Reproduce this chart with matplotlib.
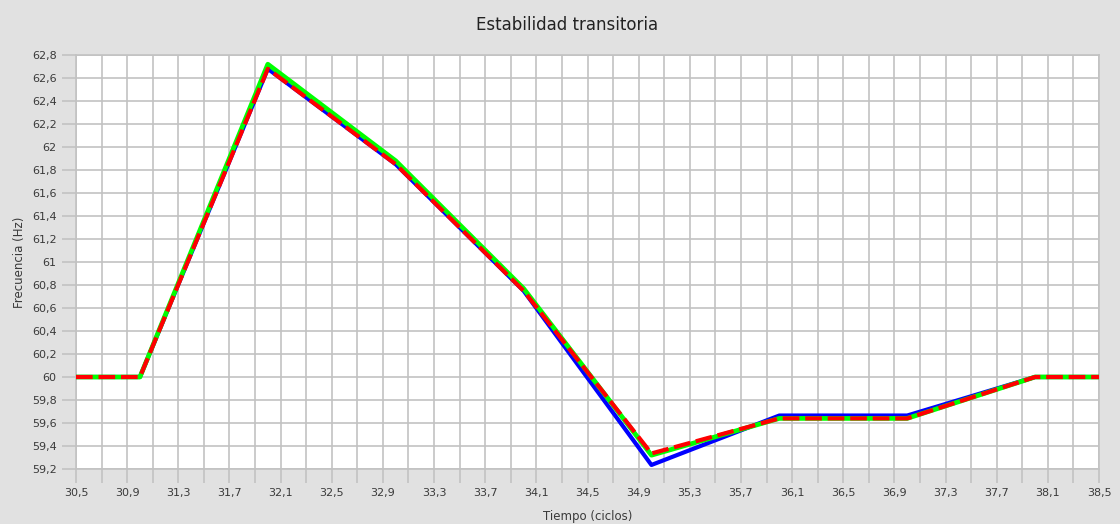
import matplotlib
matplotlib.use("Agg")
import matplotlib.pyplot as plt
import numpy as np

tiempo = [30.5, 31.0, 32.0, 33.0, 34.0, 35.0, 36.0, 37.0, 38.0, 38.5]
serie_azul = [60.0, 60.0, 62.68, 61.85, 60.75, 59.235, 59.665, 59.665, 60.0, 60.0]
serie_verde = [60.0, 60.0, 62.72, 61.88, 60.77, 59.32, 59.64, 59.64, 60.0, 60.0]
serie_roja = [60.0, 60.0, 62.68, 61.85, 60.75, 59.335, 59.64, 59.64, 60.0, 60.0]

x_ticks = [round(30.5 + 0.2 * i, 1) for i in range(41)]
y_ticks = [round(59.2 + 0.2 * i, 1) for i in range(19)]

def fmt(v):
    s = f"{v:.1f}"
    if s.endswith(".0"):
        s = s[:-2]
    return s.replace(".", ",")

bg = "#e1e1e1"
grid_c = "#c2c2c2"
txt_c = "#3a3a3a"

fig = plt.figure(figsize=(11.2, 5.24), dpi=100, facecolor=bg)
ax = fig.add_axes([76/1120, 55/524, (1099-76)/1120, (469-55)/524])
ax.set_facecolor("white")

ax.plot(tiempo, serie_azul, color="#0000ff", lw=3.0, zorder=3)
ax.plot(tiempo, serie_verde, color="#00ff00", lw=3.4, zorder=4)
ax.plot(tiempo, serie_roja, color="#ff0000", lw=3.0, dashes=(4, 1.4), zorder=5)

ax.set_xlim(30.5, 38.5)
ax.set_ylim(59.2, 62.8)
ax.set_xticks(x_ticks)
ax.set_xticklabels([fmt(v) if i % 2 == 0 else "" for i, v in enumerate(x_ticks)])
ax.set_yticks(y_ticks)
ax.set_yticklabels([fmt(v) for v in y_ticks])
ax.grid(True, color=grid_c, lw=1.2, zorder=1)
ax.set_axisbelow(True)
ax.tick_params(axis="both", length=10, width=1.2, color=grid_c, labelsize=8, labelcolor=txt_c, pad=4)
for s in ax.spines.values():
    s.set_color(grid_c)
    s.set_linewidth(1.2)

fig.text(567/1120, 1 - 25/524, "Estabilidad transitoria", fontsize=12, color="#222222",
         ha="center", va="center")
ax.set_xlabel("Tiempo (ciclos)", fontsize=8.5, color=txt_c, labelpad=8)
ax.set_ylabel("Frecuencia (Hz)", fontsize=8.5, color=txt_c, labelpad=4)

fig.savefig("out.png", dpi=100, facecolor=bg)
